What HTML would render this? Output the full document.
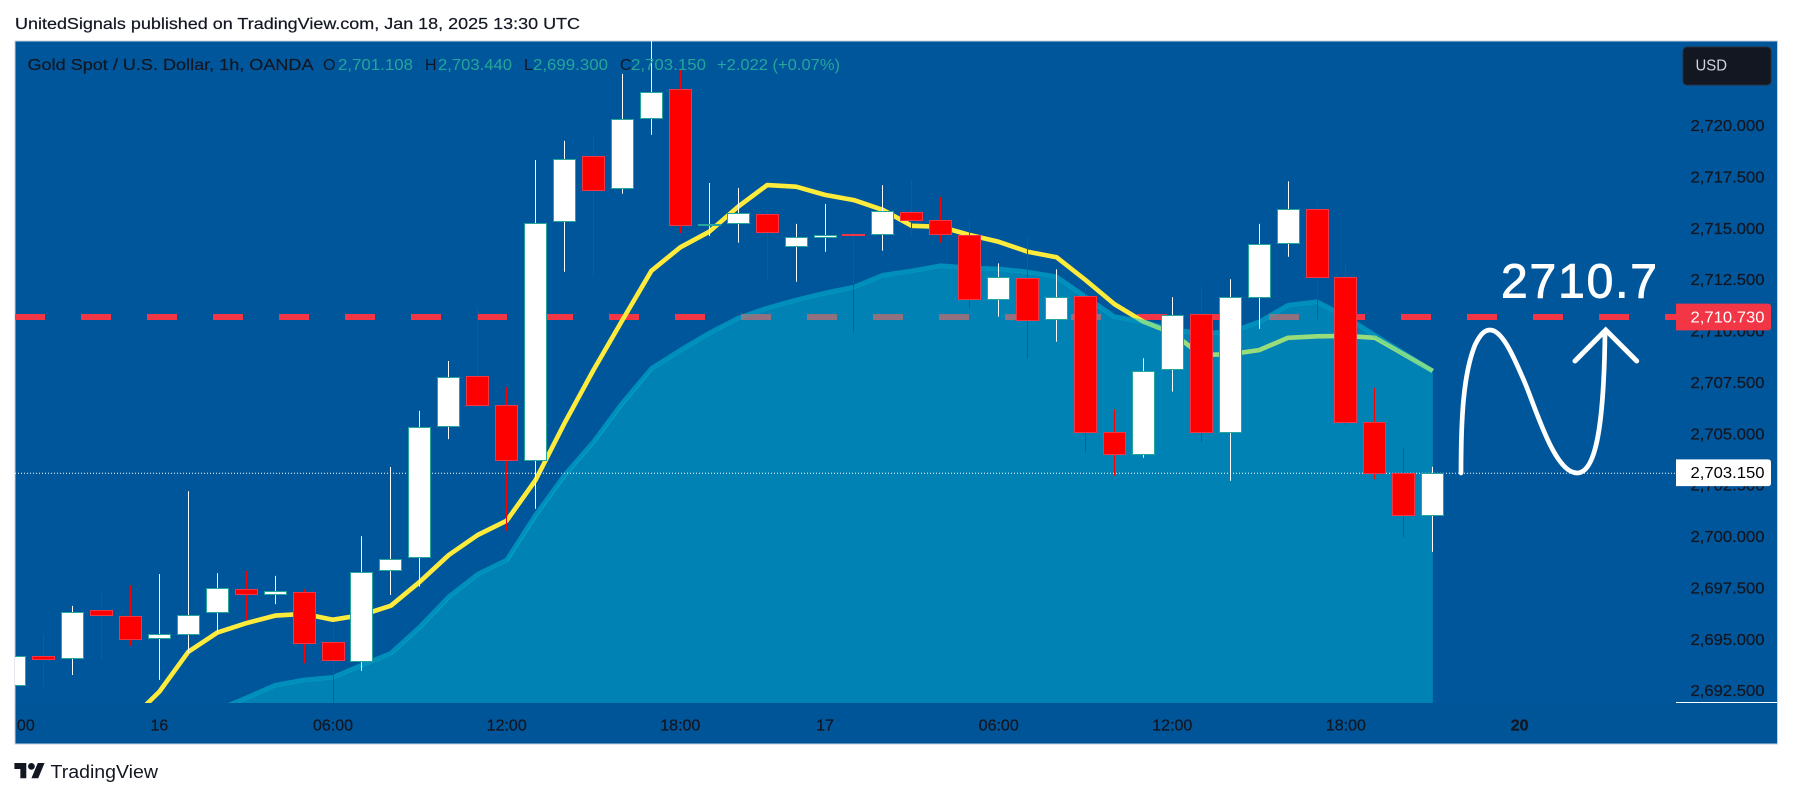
<!DOCTYPE html>
<html lang="en">
<head>
<meta charset="utf-8">
<title>Gold Spot / U.S. Dollar chart</title>
<style>
html,body{margin:0;padding:0;background:#fff;width:1793px;height:798px;overflow:hidden}
svg{display:block;font-family:"Liberation Sans",sans-serif}
</style>
</head>
<body>
<svg id="root" width="1793" height="798" viewBox="0 0 1793 798" xmlns="http://www.w3.org/2000/svg">
  <defs>
    <clipPath id="paneClip"><rect x="15" y="41" width="1661" height="662"/></clipPath>
    <clipPath id="axisClip"><rect x="17.5" y="703" width="1658.5" height="41"/></clipPath>
  </defs>
  <text x="15" y="29" font-size="16" fill="#131722" stroke="#131722" stroke-width="0.2" textLength="565" lengthAdjust="spacingAndGlyphs">UnitedSignals published on TradingView.com, Jan 18, 2025 13:30 UTC</text>
  <rect x="15" y="41" width="1762.5" height="703" fill="#00569b" stroke="#c5d0de" stroke-width="1"/>
  <rect x="15.5" y="703" width="1761.5" height="40.5" fill="#005498"/>
  <g id="pane" clip-path="url(#paneClip)">
    <line id="target" x1="15" x2="1700" stroke="#f23645" stroke-width="6" stroke-dasharray="30 36"/>
    <path id="maLine" fill="none" stroke="#ffeb3b" stroke-width="4.6" stroke-linejoin="round"/>
    <path id="bandFill" fill="rgba(0,200,217,.4)" stroke="none" transform="translate(0 2)"/>
    <path id="bandEdge" fill="none" stroke="rgba(0,200,217,.5)" stroke-width="4.5" stroke-linejoin="round"/>
    <line id="lastLine" x1="15" x2="1676" stroke="#ffffff" stroke-width="1" stroke-dasharray="1 2"/>
    <g id="candles"></g>
    <path d="M1461 473 C1461 420 1463 375 1475 345 C1480 335 1484 330 1490 330 C1503 330 1515 360 1525 383 C1537 412 1555 473 1577 473 C1595 473 1604 430 1605 332" fill="none" stroke="#ffffff" stroke-width="4.7" stroke-linecap="round"/>
    <path d="M1575 361 L1605.7 330 L1636.7 361" fill="none" stroke="#ffffff" stroke-width="5" stroke-linecap="round" stroke-linejoin="miter"/>
    <text x="1501" y="297.7" font-size="48" fill="#ffffff" stroke="#ffffff" stroke-width="0.9" textLength="156" lengthAdjust="spacing">2710.7</text>
  </g>
  <g font-size="16">
    <text x="27.5" y="70" fill="#131722" stroke="#131722" stroke-width="0.2" textLength="286" lengthAdjust="spacingAndGlyphs">Gold Spot / U.S. Dollar, 1h, OANDA</text>
    <text x="323" y="70" fill="#131722">O</text>
    <text x="338" y="70" fill="#26a69a" textLength="75" lengthAdjust="spacingAndGlyphs">2,701.108</text>
    <text x="425" y="70" fill="#131722">H</text>
    <text x="438" y="70" fill="#26a69a" textLength="74" lengthAdjust="spacingAndGlyphs">2,703.440</text>
    <text x="524" y="70" fill="#131722">L</text>
    <text x="533" y="70" fill="#26a69a" textLength="75" lengthAdjust="spacingAndGlyphs">2,699.300</text>
    <text x="620" y="70" fill="#131722">C</text>
    <text x="631" y="70" fill="#26a69a" textLength="75" lengthAdjust="spacingAndGlyphs">2,703.150</text>
    <text x="717" y="70" fill="#26a69a" textLength="123" lengthAdjust="spacingAndGlyphs">+2.022 (+0.07%)</text>
  </g>
  <g id="priceTicks"></g>
  <line x1="1676" x2="1777" y1="702.5" y2="702.5" stroke="#ffffff" stroke-width="1"/>
  <g id="timeTicks" clip-path="url(#axisClip)"></g>
  <path id="targetTag" fill="#f23645"/>
  <text id="targetText" font-size="16" fill="#ffffff" textLength="74" lengthAdjust="spacingAndGlyphs" x="1690.5"></text>
  <path id="lastTag" fill="#ffffff"/>
  <text id="lastText" font-size="16" fill="#000000" textLength="74" lengthAdjust="spacingAndGlyphs" x="1690.5"></text>
  <g>
    <rect x="1683" y="47" width="88" height="38" rx="4" fill="#131722" stroke="#2a2e39"/>
    <text x="1695.5" y="70.5" font-size="16" fill="#d1d4dc" textLength="31.5" lengthAdjust="spacingAndGlyphs">USD</text>
  </g>
  <g>
    <g transform="translate(14.4 759.6) scale(.85)" fill="#131722">
      <path d="M14 22H7V11H0V4h14v18zM28 22h-8l7.5-18h8L28 22z"/><circle cx="20" cy="8" r="4"/>
    </g>
    <text x="50.5" y="778" font-size="18" fill="#131722" textLength="107.5" lengthAdjust="spacingAndGlyphs">TradingView</text>
  </g>
</svg>
<script>
const opens  = [2692.81,2694.22,2694.12,2696.46,2696.17,2695.10,2695.29,2696.38,2697.51,2697.24,2697.33,2694.90,2693.98,2698.40,2699.05,2705.43,2707.84,2706.43,2703.76,2715.40,2718.55,2716.99,2720.40,2721.81,2715.21,2715.29,2715.73,2714.17,2714.61,2714.76,2714.76,2715.83,2715.44,2714.71,2711.61,2712.64,2710.63,2711.74,2705.12,2704.05,2708.19,2710.86,2705.12,2711.70,2714.32,2716.00,2712.66,2705.61,2703.12,2701.108];
const highs  = [2694.30,2695.30,2696.67,2697.45,2697.67,2698.22,2702.26,2698.27,2698.37,2698.13,2697.48,2695.74,2700.07,2703.43,2706.16,2708.59,2711.20,2707.31,2718.37,2719.30,2719.59,2722.56,2724.16,2722.75,2717.25,2717.01,2715.94,2715.26,2716.23,2714.85,2717.15,2717.40,2716.57,2715.50,2713.34,2714.69,2713.05,2712.13,2706.24,2708.72,2711.70,2712.21,2712.57,2715.26,2717.33,2716.33,2713.39,2707.29,2704.37,2703.44];
const lows   = [2692.50,2692.71,2693.31,2694.07,2694.73,2693.07,2694.38,2695.34,2695.98,2696.76,2693.88,2691.90,2693.52,2697.20,2697.61,2704.79,2706.34,2700.32,2701.40,2712.93,2712.64,2716.73,2719.60,2714.82,2714.67,2714.35,2712.57,2712.45,2713.91,2709.97,2713.96,2714.69,2714.35,2711.18,2710.75,2708.70,2709.53,2704.18,2703.01,2703.88,2707.10,2704.63,2702.76,2710.16,2713.66,2710.63,2705.46,2702.83,2700.02,2699.30];
const closes = [2694.22,2694.10,2696.39,2696.24,2695.05,2695.29,2696.24,2697.56,2697.24,2697.38,2694.85,2694.02,2698.34,2698.97,2705.36,2707.80,2706.46,2703.76,2715.32,2718.43,2716.90,2720.38,2721.69,2715.19,2715.24,2715.81,2714.85,2714.61,2714.74,2714.72,2715.90,2715.44,2714.76,2711.61,2712.69,2710.57,2711.72,2705.12,2704.05,2708.12,2710.84,2705.12,2711.72,2714.30,2716.00,2712.66,2705.61,2703.14,2701.11,2703.15];
const maStartIndex = 4;
const maValues = [2691.12,2692.50,2694.44,2695.37,2695.83,2696.20,2696.28,2696.00,2696.23,2696.68,2697.85,2699.15,2700.12,2700.82,2702.80,2705.57,2708.15,2710.58,2712.98,2714.12,2714.88,2716.10,2717.15,2717.07,2716.67,2716.42,2715.94,2715.17,2715.12,2714.72,2714.39,2713.91,2713.64,2712.53,2711.36,2710.50,2709.95,2708.88,2708.92,2709.12,2709.72,2709.79,2709.81,2709.72,2708.92,2708.10];
const bandStartIndex = 6;
const bandValues = [2690.88,2691.61,2692.20,2692.82,2693.07,2693.20,2693.80,2694.37,2695.66,2697.12,2698.22,2698.91,2701.10,2703.04,2704.66,2706.55,2708.23,2709.12,2709.95,2710.68,2711.17,2711.56,2711.90,2712.19,2712.77,2712.98,2713.23,2713.12,2713.07,2712.93,2712.69,2711.72,2710.75,2710.49,2710.10,2709.95,2710.00,2710.49,2711.31,2711.48,2710.75,2709.85,2708.98,2708.10];
const priceTickValues = [2720,2717.5,2715,2712.5,2710,2707.5,2705,2702.5,2700,2697.5,2695,2692.5];
const timeTickLabels = ["19:00","16","06:00","12:00","18:00","17","06:00","12:00","18:00","20"];
const timeTickIndexes = [0,5,11,17,23,28,34,40,46,52];
const targetPrice = 2710.73;
const lastPrice = 2703.15;

const NS = "http://www.w3.org/2000/svg";
const xAt = i => 14.7 + i * 28.94;
const yAt = p => 317 + (2710.73 - p) * 20.55;
const fmt = p => p.toLocaleString("en-US", {minimumFractionDigits:3, maximumFractionDigits:3});
const $ = id => document.getElementById(id);

function linePath(values, start) {
  return values.map((v, k) => (k ? "L" : "M") + xAt(start + k).toFixed(1) + " " + yAt(v).toFixed(1)).join(" ");
}

$("maLine").setAttribute("d", linePath(maValues, maStartIndex));
const bandLine = linePath(bandValues, bandStartIndex);
const bandEndX = xAt(bandStartIndex + bandValues.length - 1).toFixed(1);
$("bandEdge").setAttribute("d", bandLine);
$("bandFill").setAttribute("d", bandLine + " L" + bandEndX + " 703 L" + xAt(bandStartIndex).toFixed(1) + " 703 Z");

$("target").setAttribute("y1", yAt(targetPrice));
$("target").setAttribute("y2", yAt(targetPrice));
$("lastLine").setAttribute("y1", yAt(lastPrice) + 0.5);
$("lastLine").setAttribute("y2", yAt(lastPrice) + 0.5);

const candleGroup = $("candles");
closes.forEach((c, i) => {
  const o = opens[i];
  const up = c >= o;
  const cx = Math.floor(xAt(i)) + 0.5;
  const wick = document.createElementNS(NS, "line");
  
  
  wick.setAttribute("x1", cx);
  wick.setAttribute("x2", cx);
  wick.setAttribute("y1", yAt(highs[i]).toFixed(1));
  wick.setAttribute("y2", yAt(lows[i]).toFixed(1));
  wick.setAttribute("stroke", up ? "#ffffff" : "#ff0000");
  wick.setAttribute("stroke-width", "1");
  candleGroup.appendChild(wick);
  const top = Math.round(yAt(Math.max(o, c))) + 0.5;
  const bottom = Math.round(yAt(Math.min(o, c))) + 0.5;
  const body = document.createElementNS(NS, "rect");
  
  
  body.setAttribute("x", cx - 11);
  body.setAttribute("width", 22);
  body.setAttribute("y", top.toFixed(1));
  body.setAttribute("height", Math.max(bottom - top, 1).toFixed(1));
  body.setAttribute("fill", up ? "#ffffff" : "#ff0000");
  body.setAttribute("stroke", up ? "#26a69a" : "#f23645");
  body.setAttribute("stroke-width", "1");
  candleGroup.appendChild(body);
});

priceTickValues.forEach(p => {
  const t = document.createElementNS(NS, "text");
  
  
  t.setAttribute("x", 1690.5);
  t.setAttribute("y", (yAt(p) + 4.6).toFixed(1));
  t.setAttribute("font-size", "16");
  t.setAttribute("fill", "#131722");
  t.setAttribute("stroke", "#131722");
  t.setAttribute("stroke-width", "0.25");
  t.setAttribute("textLength", "74");
  t.setAttribute("lengthAdjust", "spacingAndGlyphs");
  t.textContent = fmt(p);
  $("priceTicks").appendChild(t);
});

timeTickLabels.forEach((label, k) => {
  const t = document.createElementNS(NS, "text");
  
  
  t.setAttribute("x", xAt(timeTickIndexes[k]).toFixed(1));
  t.setAttribute("y", 730.7);
  t.setAttribute("font-size", "16");
  t.setAttribute("text-anchor", "middle");
  t.setAttribute("fill", "#131722");
  t.setAttribute("stroke", "#131722");
  t.setAttribute("stroke-width", "0.25");
  if (label === "20") t.setAttribute("font-weight", "bold");
  t.textContent = label;
  $("timeTicks").appendChild(t);
});

function tagPath(y) {
  const t = y - 13.4, b = y + 13.4;
  return "M1676 " + t + " H1768 q3 0 3 3 V" + (b - 3) + " q0 3 -3 3 H1676 Z";
}
$("targetTag").setAttribute("d", tagPath(yAt(targetPrice)));
$("targetText").setAttribute("y", (yAt(targetPrice) + 5.4).toFixed(1));
$("targetText").textContent = fmt(targetPrice);
$("lastTag").setAttribute("d", tagPath(yAt(lastPrice)));
$("lastText").setAttribute("y", (yAt(lastPrice) + 5.0).toFixed(1));
$("lastText").textContent = fmt(lastPrice);
</script>
</body>
</html>
